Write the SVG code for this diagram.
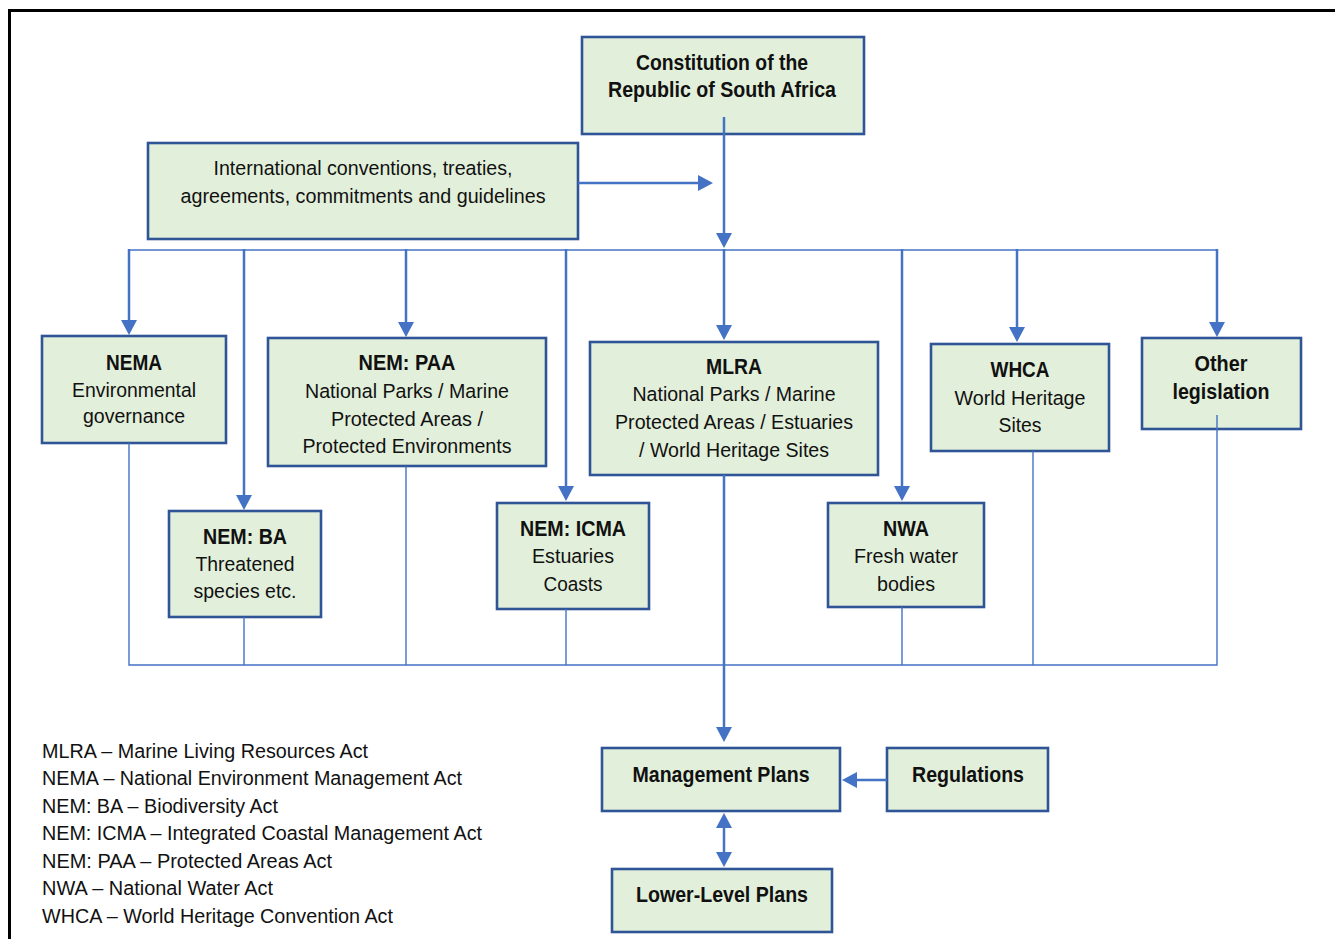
<svg xmlns="http://www.w3.org/2000/svg" width="1335" height="939" viewBox="0 0 1335 939">
  <style>
    .box { fill: #E2EFDA; stroke: #2F5597; stroke-width: 2.6; }
    .t { font-family: "Liberation Sans", Arial, sans-serif; font-size: 20.5px; fill: #111; text-anchor: middle; }
    .b { font-weight: bold; font-size: 22px; }
    .leg { font-family: "Liberation Sans", Arial, sans-serif; font-size: 19.5px; fill: #111; }
    .arrow { stroke: #4472C4; stroke-width: 2.5; fill: none; }
    .thin { stroke: #4472C4; stroke-width: 1.4; fill: none; }
  </style>
  <defs>
    <marker id="head" markerUnits="userSpaceOnUse" markerWidth="16" markerHeight="16" refX="7" refY="8" orient="auto-start-reverse">
      <path d="M0,0 L15,8 L0,16 z" fill="#4472C4"/>
    </marker>
  </defs>

  <rect width="1335" height="939" fill="#fff"/>
  <!-- page frame -->
  <path d="M9.5,939 V10.5 H1335" fill="none" stroke="#000" stroke-width="3"/>

  <g id="constitution">
    <rect class="box" x="582" y="37" width="282" height="97"/>
    <text class="t b" x="722" y="70" textLength="172" lengthAdjust="spacingAndGlyphs">Constitution of the</text>
    <text class="t b" x="722" y="97" textLength="228" lengthAdjust="spacingAndGlyphs">Republic of South Africa</text>
  </g>
  <g id="international">
    <rect class="box" x="148" y="143" width="430" height="96"/>
    <text class="t" x="363" y="175" textLength="299" lengthAdjust="spacingAndGlyphs">International conventions, treaties,</text>
    <text class="t" x="363" y="203" textLength="365" lengthAdjust="spacingAndGlyphs">agreements, commitments and guidelines</text>
  </g>
  <g id="nema">
    <rect class="box" x="42" y="336" width="184" height="107"/>
    <text class="t b" x="134" y="370" textLength="56" lengthAdjust="spacingAndGlyphs">NEMA</text>
    <text class="t" x="134" y="397" textLength="124" lengthAdjust="spacingAndGlyphs">Environmental</text>
    <text class="t" x="134" y="423" textLength="102" lengthAdjust="spacingAndGlyphs">governance</text>
  </g>
  <g id="nem-ba">
    <rect class="box" x="169" y="511" width="152" height="106"/>
    <text class="t b" x="245" y="544" textLength="84" lengthAdjust="spacingAndGlyphs">NEM: BA</text>
    <text class="t" x="245" y="571" textLength="99" lengthAdjust="spacingAndGlyphs">Threatened</text>
    <text class="t" x="245" y="598" textLength="103" lengthAdjust="spacingAndGlyphs">species etc.</text>
  </g>
  <g id="nem-paa">
    <rect class="box" x="268" y="338" width="278" height="128"/>
    <text class="t b" x="407" y="370" textLength="97" lengthAdjust="spacingAndGlyphs">NEM: PAA</text>
    <text class="t" x="407" y="398" textLength="204" lengthAdjust="spacingAndGlyphs">National Parks / Marine</text>
    <text class="t" x="407" y="426" textLength="152" lengthAdjust="spacingAndGlyphs">Protected Areas /</text>
    <text class="t" x="407" y="453" textLength="209" lengthAdjust="spacingAndGlyphs">Protected Environments</text>
  </g>
  <g id="nem-icma">
    <rect class="box" x="497" y="503" width="152" height="106"/>
    <text class="t b" x="573" y="536" textLength="106" lengthAdjust="spacingAndGlyphs">NEM: ICMA</text>
    <text class="t" x="573" y="563" textLength="82" lengthAdjust="spacingAndGlyphs">Estuaries</text>
    <text class="t" x="573" y="591" textLength="59" lengthAdjust="spacingAndGlyphs">Coasts</text>
  </g>
  <g id="mlra">
    <rect class="box" x="590" y="342" width="288" height="133"/>
    <text class="t b" x="734" y="374" textLength="56" lengthAdjust="spacingAndGlyphs">MLRA</text>
    <text class="t" x="734" y="401" textLength="203" lengthAdjust="spacingAndGlyphs">National Parks / Marine</text>
    <text class="t" x="734" y="429" textLength="238" lengthAdjust="spacingAndGlyphs">Protected Areas / Estuaries</text>
    <text class="t" x="734" y="457" textLength="190" lengthAdjust="spacingAndGlyphs">/ World Heritage Sites</text>
  </g>
  <g id="nwa">
    <rect class="box" x="828" y="503" width="156" height="104"/>
    <text class="t b" x="906" y="536" textLength="46" lengthAdjust="spacingAndGlyphs">NWA</text>
    <text class="t" x="906" y="563" textLength="104" lengthAdjust="spacingAndGlyphs">Fresh water</text>
    <text class="t" x="906" y="591" textLength="58" lengthAdjust="spacingAndGlyphs">bodies</text>
  </g>
  <g id="whca">
    <rect class="box" x="931" y="344" width="178" height="107"/>
    <text class="t b" x="1020" y="377" textLength="59" lengthAdjust="spacingAndGlyphs">WHCA</text>
    <text class="t" x="1020" y="405" textLength="131" lengthAdjust="spacingAndGlyphs">World Heritage</text>
    <text class="t" x="1020" y="432" textLength="43" lengthAdjust="spacingAndGlyphs">Sites</text>
  </g>
  <g id="other">
    <rect class="box" x="1142" y="338" width="159" height="91"/>
    <text class="t b" x="1221" y="371" textLength="53" lengthAdjust="spacingAndGlyphs">Other</text>
    <text class="t b" x="1221" y="399" textLength="97" lengthAdjust="spacingAndGlyphs">legislation</text>
  </g>
  <g id="management-plans">
    <rect class="box" x="602" y="748" width="238" height="63"/>
    <text class="t b" x="721" y="782" textLength="177" lengthAdjust="spacingAndGlyphs">Management Plans</text>
  </g>
  <g id="regulations">
    <rect class="box" x="887" y="748" width="161" height="63"/>
    <text class="t b" x="968" y="782" textLength="112" lengthAdjust="spacingAndGlyphs">Regulations</text>
  </g>
  <g id="lower-level-plans">
    <rect class="box" x="612" y="869" width="220" height="63"/>
    <text class="t b" x="722" y="902" textLength="172" lengthAdjust="spacingAndGlyphs">Lower-Level Plans</text>
  </g>

  <g id="connectors">
    <!-- top distribution bus -->
    <path class="thin" d="M129,250 H1217"/>
    <path class="arrow" d="M724,117 V240" marker-end="url(#head)"/>
    <path class="arrow" d="M578,183 H705" marker-end="url(#head)"/>
    <!-- drops to each act -->
    <path class="arrow" d="M129,249 V327" marker-end="url(#head)"/>
    <path class="arrow" d="M244,249 V502" marker-end="url(#head)"/>
    <path class="arrow" d="M406,249 V329" marker-end="url(#head)"/>
    <path class="arrow" d="M566,249 V493" marker-end="url(#head)"/>
    <path class="arrow" d="M724,249 V332" marker-end="url(#head)"/>
    <path class="arrow" d="M902,249 V493" marker-end="url(#head)"/>
    <path class="arrow" d="M1017,249 V334" marker-end="url(#head)"/>
    <path class="arrow" d="M1217,249 V329" marker-end="url(#head)"/>
    <!-- bottom collecting bus -->
    <path class="thin" d="M129,443 V665 H1217 V415"/>
    <path class="thin" d="M244,617 V665"/>
    <path class="thin" d="M406,466 V665"/>
    <path class="thin" d="M566,609 V665"/>
    <path class="thin" d="M902,607 V665"/>
    <path class="thin" d="M1033,451 V665"/>
    <!-- MLRA to management plans -->
    <path class="arrow" d="M724,475 V734" marker-end="url(#head)"/>
    <path class="arrow" d="M887,780 H850" marker-end="url(#head)"/>
    <path class="arrow" d="M724,821 V859" marker-start="url(#head)" marker-end="url(#head)"/>
  </g>

  <g id="legend">
    <text class="leg" x="42" y="757.5" textLength="326" lengthAdjust="spacingAndGlyphs">MLRA – Marine Living Resources Act</text>
    <text class="leg" x="42" y="785" textLength="420" lengthAdjust="spacingAndGlyphs">NEMA – National Environment Management Act</text>
    <text class="leg" x="42" y="812.5" textLength="236" lengthAdjust="spacingAndGlyphs">NEM: BA – Biodiversity Act</text>
    <text class="leg" x="42" y="840" textLength="440" lengthAdjust="spacingAndGlyphs">NEM: ICMA – Integrated Coastal Management Act</text>
    <text class="leg" x="42" y="867.5" textLength="290" lengthAdjust="spacingAndGlyphs">NEM: PAA – Protected Areas Act</text>
    <text class="leg" x="42" y="895" textLength="231" lengthAdjust="spacingAndGlyphs">NWA – National Water Act</text>
    <text class="leg" x="42" y="922.5" textLength="351" lengthAdjust="spacingAndGlyphs">WHCA – World Heritage Convention Act</text>
  </g>
</svg>
